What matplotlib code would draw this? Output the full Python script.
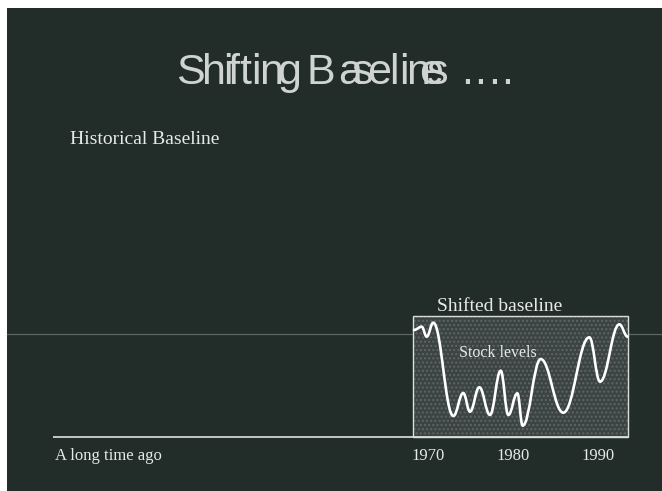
import matplotlib
matplotlib.use("Agg")
import matplotlib.pyplot as plt
from matplotlib.patches import Rectangle, PathPatch
from matplotlib.path import Path

# ---------------- data ----------------
years = [1968.35, 1969.26, 1969.85, 1970.62, 1972.98, 1974.15, 1974.94,
         1976.04, 1977.29, 1978.55, 1979.45, 1980.51, 1981.14, 1983.26,
         1985.92, 1988.98, 1990.24, 1992.51, 1993.49]
stock = [103.9, 107.1, 97.4, 111.0, 20.4, 42.7, 24.6,
         48.3, 21.4, 64.4, 21.4, 42.4, 11.0, 75.7,
         23.6, 96.8, 53.7, 109.4, 97.4]
historical_baseline = 100.0
shifted_box_years = [1968.24, 1993.53]
shifted_box_top = 117.5
tick_years = [1970, 1980, 1990]
tick_labels = ["1970", "1980", "1990"]
title = "Shifting Baselines . . . ."
axis_start_year = 1925.9

# ---------------- styling / layout ----------------
W, H = 662, 491
BG = "#222d2a"
FG = "#e6e9e8"
SERIF = ["Liberation Serif", "DejaVu Serif"]
SANS = ["Liberation Sans", "DejaVu Sans"]

fig = plt.figure(figsize=(W / 100, H / 100), dpi=100)
fig.patch.set_facecolor("white")
fig.patches.append(Rectangle((7 / W, 0), 1, 1 - 8 / H, transform=fig.transFigure,
                             facecolor=BG, edgecolor="none", zorder=-10))

# data axes covering the whole figure: 1970 -> 428 px, 8.5 px / year; 0 -> 437 px, 100 -> 334 px
ax = fig.add_axes([0, 0, 1, 1])
x_left = 1970 - 428 / 8.5
ax.set_xlim(x_left, x_left + W / 8.5)
ax.set_ylim(-(H - 437) / 1.03, 437 / 1.03)
ax.axis("off")
ax.patch.set_alpha(0)


def fpx(x, y):
    return x / W, 1 - y / H


# faint historical baseline across the slide
ax.axhline(historical_baseline, xmin=7 / W, xmax=1, color="#5b6562", lw=0.9, zorder=1)

# shifted-baseline box (stippled fill)
plt.rcParams["hatch.color"] = "#5d6664"
bx0, bx1 = shifted_box_years
box = Rectangle((bx0, 0), bx1 - bx0, shifted_box_top, facecolor="#3b4442",
                edgecolor="#5d6664", lw=0, hatch="....", zorder=2)
ax.add_patch(box)
ax.add_patch(Rectangle((bx0, 0), bx1 - bx0, shifted_box_top, facecolor="none",
                       edgecolor="#d9dddc", lw=1.0, zorder=3))

# time axis line
ax.plot([axis_start_year, bx1], [0, 0], color="#dfe3e2", lw=1.2, zorder=4,
        solid_capstyle="butt")

# stock curve: smooth Bezier path through the read extrema
verts = [(years[0], stock[0])]
codes = [Path.MOVETO]
for i in range(1, len(years)):
    x0, y0 = years[i - 1], stock[i - 1]
    x1, y1 = years[i], stock[i]
    dx = x1 - x0
    verts += [(x0 + dx * 0.4, y0), (x1 - dx * 0.4, y1), (x1, y1)]
    codes += [Path.CURVE4] * 3
ax.add_patch(PathPatch(Path(verts, codes), fill=False, edgecolor="white", lw=1.9,
                       capstyle="round", joinstyle="round", zorder=5))

# tick labels
for yr, lab in zip(tick_years, tick_labels):
    ax.text(yr, -(460.5 - 437) / 1.03, lab, ha="center", va="baseline",
            fontsize=12, color=FG, family=SERIF)
fig.text(*fpx(55, 460.5), "A long time ago", ha="left", va="baseline",
         fontsize=12, color=FG, family=SERIF)

# labels
fig.text(*fpx(70, 144.3), "Historical Baseline", ha="left", va="baseline",
         fontsize=14, color=FG, family=SERIF)
fig.text(*fpx(437, 310.7), "Shifted baseline", ha="left", va="baseline",
         fontsize=14, color=FG, family=SERIF)
fig.text(*fpx(459, 356.7), "Stock levels", ha="left", va="baseline",
         fontsize=11.5, color=FG, family=SERIF, zorder=6)

# title, placed glyph by glyph to reproduce the tight (overlapping) setting
title_lefts = [176, 202, 223, 227, 239, 251, 259, 277, None, 306, 338, 352, 367, 389,
               399, 406, 419, 427, None, 461, None, 474, None, 488, None, 501]
for ch, xl in zip(title, title_lefts):
    if ch == " " or xl is None:
        continue
    fig.text(*fpx(xl, 84), ch, ha="left", va="baseline", fontsize=31,
             color="#cfd4d2", family=SANS)

fig.savefig("out.png", dpi=100, facecolor=fig.get_facecolor())
